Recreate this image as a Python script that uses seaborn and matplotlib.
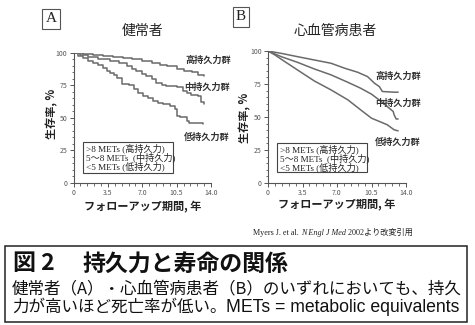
import matplotlib
matplotlib.use("Agg")
import matplotlib.pyplot as plt
import seaborn as sns
import pandas as pd
from matplotlib.patches import Rectangle
from matplotlib.ticker import MultipleLocator

# ---------------- data ----------------
a_high_x = [0, 1.0, 2.0, 3.0, 4.0, 5.0, 6.0, 7.0, 8.0, 8.8, 9.5, 10.5, 11.3, 12.1, 12.7, 13.3]
a_high_y = [100, 99.3, 98.5, 97.5, 96.8, 96, 95, 94, 92.5, 91, 90, 88, 86.5, 85, 83, 82.5]
a_mid_x = [0, 0.7, 1.5, 2.5, 3.7, 4.6, 5.4, 6.0, 6.4, 7.0, 7.4, 8.0, 8.4, 9.0, 9.4, 10.5, 11.1, 11.6, 12.0, 12.7, 13.0, 13.3]
a_mid_y = [100, 98.7, 97, 95, 93.6, 92, 90, 88, 86, 84, 82.2, 80, 77, 75.5, 74.6, 73.8, 71, 69.5, 68, 67, 62, 61]
a_low_x = [0, 0.5, 1.0, 1.5, 2.0, 2.5, 3.0, 3.4, 3.7, 4.1, 4.4, 4.9, 5.7, 6.2, 6.6, 7.1, 7.6, 8.1, 8.6, 9.1, 9.8, 10.3, 10.5, 10.8, 11.6, 11.8, 13.2]
a_low_y = [100, 98, 96, 94, 92.4, 90.5, 88.5, 86.5, 84.7, 83, 80.9, 76.3, 75.3, 72, 69.5, 67, 65, 63, 61.8, 60.6, 59.3, 56.7, 51.6, 50.4, 47.8, 45.8, 45.3]

b_high_x = [0, 1.35, 3.0, 4.7, 6.4, 7.8, 9.1, 10.1, 10.8, 11.3, 11.6, 12.8, 13.2]
b_high_y = [100, 98.2, 95.7, 93.2, 90.7, 86.9, 83.9, 80.6, 75.6, 73, 69.3, 68.8, 68.8]
b_mid_x = [0, 1.35, 3.0, 4.7, 6.4, 8.1, 9.4, 10.5, 11.5, 12.1, 12.7, 12.8, 13.0, 13.2]
b_mid_y = [100, 95.7, 91.4, 86.4, 81.9, 76.3, 71.8, 67.3, 61.7, 57.9, 54.2, 51.6, 48.5, 48.5]
b_low_x = [0, 0.7, 1.7, 3.0, 4.7, 6.4, 8.1, 9.4, 10.5, 11.5, 12.1, 12.8, 13.2]
b_low_y = [100, 97, 92, 85.6, 77.3, 70.5, 63, 55.4, 49.1, 46, 44.1, 40.3, 39.5]

x_ticks = [0, 3.5, 7.0, 10.5, 14.0]
x_ticklabels = ["0", "3.5", "7.0", "10.5", "14.0"]
y_ticks = [0, 25, 50, 75, 100]
group_labels = ["高持久力群", "中持久力群", "低持久力群"]
legend_lines = [">8 METs (高持久力)", "5〜8 METs  (中持久力)", "<5 METs (低持久力)"]
panel_titles = ["健常者", "心血管病患者"]
panel_letters = ["A", "B"]
xlabel = "フォローアップ期間, 年"
ylabel = "生存率, %"
citation = ["Myers J. et al. ", "N Engl J Med", " 2002より改変引用"]
fig_title = ["図 2", "持久力と寿命の関係"]
caption1 = "健常者（A）・心血管病患者（B）のいずれにおいても、持久"
caption2 = ["力が高いほど死亡率が低い。", "METs = metabolic equivalents"]

# ---------------- style ----------------
sns.set_theme(style="ticks")
JP = ["Noto Sans CJK JP", "DejaVu Sans"]
SERIF = ["Liberation Serif", "Noto Sans CJK JP"]
SANS = ["Liberation Sans", "Noto Sans CJK JP"]
plt.rcParams["font.family"] = JP

W, H = 475, 325
fig = plt.figure(figsize=(W / 100, H / 100), dpi=100)
fig.patch.set_facecolor("white")

def fx(px):
    return px / W

def fy(py):
    return 1 - py / H

line_col = "#6a6a6a"
axis_col = "#555555"

def make_axes(left, top, right, bottom):
    ax = fig.add_axes([fx(left), fy(bottom), fx(right) - fx(left), fy(top) - fy(bottom)])
    ax.set_xlim(0, 14)
    ax.set_ylim(0, 100)
    ax.set_xticks(x_ticks)
    ax.set_xticklabels(x_ticklabels)
    ax.set_yticks(y_ticks)
    ax.xaxis.set_minor_locator(MultipleLocator(0.7))
    ax.yaxis.set_minor_locator(MultipleLocator(5))
    ax.tick_params(which="major", length=3, width=0.7, colors=axis_col, labelsize=5, pad=1.5)
    ax.tick_params(which="minor", length=1.8, width=0.6, colors=axis_col)
    for s in ["top", "right"]:
        ax.spines[s].set_visible(False)
    for s in ["left", "bottom"]:
        ax.spines[s].set_color(axis_col)
        ax.spines[s].set_linewidth(0.8)
    ax.set_facecolor("white")
    return ax

axA = make_axes(73.5, 53, 211, 183)
axB = make_axes(268, 51, 406, 183)

for xs, ys in [(a_high_x, a_high_y), (a_mid_x, a_mid_y), (a_low_x, a_low_y)]:
    df = pd.DataFrame({"t": xs, "s": ys})
    sns.lineplot(data=df, x="t", y="s", ax=axA, color=line_col, linewidth=1.1,
                 drawstyle="steps-post", estimator=None, sort=False)
for xs, ys in [(b_high_x, b_high_y), (b_mid_x, b_mid_y), (b_low_x, b_low_y)]:
    df = pd.DataFrame({"t": xs, "s": ys})
    sns.lineplot(data=df, x="t", y="s", ax=axB, color=line_col, linewidth=1.1,
                 estimator=None, sort=False)
for ax in (axA, axB):
    ax.set_xlabel("")
    ax.set_ylabel("")

# panel letters
for (cx, cy), letter in zip([(51, 19), (241, 17)], panel_letters):
    fig.text(fx(cx), fy(cy), letter, ha="center", va="center", fontsize=11,
             family=SERIF, color="#222222",
             bbox=dict(boxstyle="square,pad=0.2", fc="white", ec="#555555", lw=0.8))

# titles
for (cx, cy), t in zip([(143, 31), (335, 31)], panel_titles):
    fig.text(fx(cx), fy(cy), t, ha="center", va="center", fontsize=10, color="#222222")

# axis labels
for (cx, cy) in [(52, 114), (245, 118)]:
    fig.text(fx(cx), fy(cy), ylabel, ha="center", va="center", rotation=90,
             fontsize=8, fontweight="bold", color="#222222")
for (cx, cy) in [(143, 207), (337, 205)]:
    fig.text(fx(cx), fy(cy), xlabel, ha="center", va="center",
             fontsize=8, fontweight="bold", color="#222222")

# group labels
for pos_list in [[(208, 60), (207, 87), (207, 137)], [(398, 76), (398, 103), (398, 142)]]:
    for (cx, cy), t in zip(pos_list, group_labels):
        fig.text(fx(cx), fy(cy), t, ha="center", va="center", fontsize=6.6,
                 fontweight="bold", color="#333333")

# legend boxes
for (x0, y0, x1, y1) in [(83, 142, 173, 173), (277, 143, 367, 172)]:
    fig.patches.append(Rectangle((fx(x0), fy(y1)), fx(x1) - fx(x0), fy(y0) - fy(y1),
                                 transform=fig.transFigure, fill=True, fc="white",
                                 ec="#444444", lw=0.8, zorder=5))
    for i, t in enumerate(legend_lines):
        fig.text(fx(x0 + 3), fy(y0 + 6.5 + i * 9), t, ha="left", va="center",
                 fontsize=6.6, family=SERIF, color="#222222", zorder=6)

# citation
fig.canvas.draw()
renderer = fig.canvas.get_renderer()
cx = 253
styles = ["normal", "italic", "normal"]
for part, st in zip(citation, styles):
    t = fig.text(fx(cx), fy(233), part, ha="left", va="center", fontsize=5.9,
                 family=SERIF, style=st, color="#222222")
    bb = t.get_window_extent(renderer=renderer)
    cx += bb.width

# caption box
fig.patches.append(Rectangle((fx(5), fy(322)), fx(467) - fx(5), fy(245.5) - fy(322),
                             transform=fig.transFigure, fill=False, ec="#222222", lw=1.1))
fig.text(fx(13), fy(264), fig_title[0], ha="left", va="center", fontsize=16.5,
         fontweight="bold", color="#111111")
fig.text(fx(82), fy(264), fig_title[1], ha="left", va="center", fontsize=16.5,
         fontweight="bold", color="#111111")
fig.text(fx(12), fy(289), caption1, ha="left", va="center", fontsize=11.9, color="#111111")
fig.text(fx(12), fy(307), caption2[0], ha="left", va="center", fontsize=11.9, color="#111111")
fig.text(fx(226), fy(307), caption2[1], ha="left", va="center", fontsize=12.7,
         family=SANS, color="#111111")

fig.savefig("out.png", dpi=100, facecolor="white")
